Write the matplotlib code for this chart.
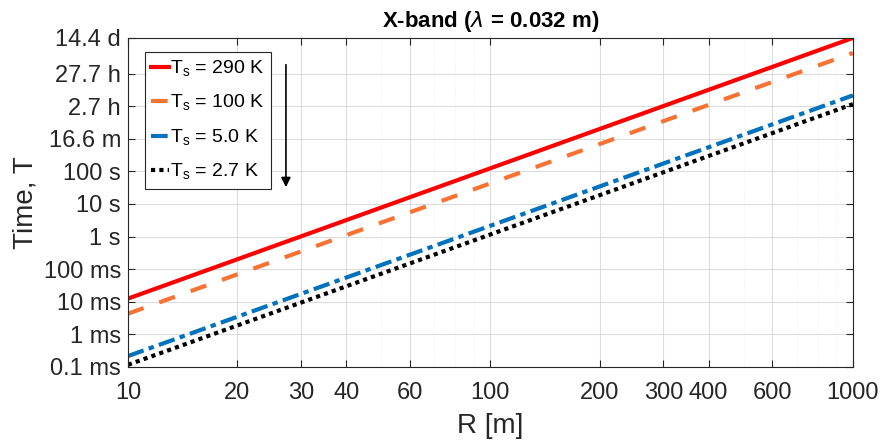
import matplotlib
matplotlib.use("Agg")
import matplotlib.pyplot as plt
from matplotlib.ticker import FixedLocator, NullFormatter

plt.rcParams['font.family'] = ['Liberation Sans', 'DejaVu Sans']
plt.rcParams['mathtext.fontset'] = 'custom'
plt.rcParams['mathtext.rm'] = 'Liberation Sans'

# range end points (log-log straight lines)
R = [10, 1000]
T_290 = [0.01244, 1.244e6]
T_100 = [0.00429, 4.29e5]
T_5 = [2.145e-4, 2.145e4]
T_27 = [1.158e-4, 1.158e4]

labels = ['T$_\\mathregular{s}$ = 290 K', 'T$_\\mathregular{s}$ = 100 K',
          'T$_\\mathregular{s}$ = 5.0 K', 'T$_\\mathregular{s}$ = 2.7 K']

xticks = [10, 20, 30, 40, 60, 100, 200, 300, 400, 600, 1000]
yticks = [1e-4, 1e-3, 1e-2, 1e-1, 1, 10, 100, 1e3, 1e4, 1e5, 1.244e6]
ytick_labels = ['0.1 ms', '1 ms', '10 ms', '100 ms', '1 s', '10 s', '100 s',
                '16.6 m', '2.7 h', '27.7 h', '14.4 d']

fig = plt.figure(figsize=(8.82, 4.41), dpi=100)
ax = fig.add_axes([0.145, 0.168, 0.822, 0.746])

ax.plot(R, T_290, color='#ff0000', lw=3, label=labels[0])
ax.plot(R, T_100, color='#f87233', lw=3, dashes=(4, 4), label=labels[1])
ax.plot(R, T_5, color='#0072bd', lw=3, dashes=(4, 1.3, 1.3, 1.3), label=labels[2])
ax.plot(R, T_27, color='black', lw=3, dashes=(1, 1), label=labels[3])

ax.set_xscale('log')
ax.set_yscale('log')
ax.set_xlim(10, 1000)
ax.set_ylim(1e-4, 1.244e6)

ax.xaxis.set_major_locator(FixedLocator(xticks))
ax.set_xticklabels([str(v) for v in xticks])
ax.xaxis.set_minor_formatter(NullFormatter())
ax.yaxis.set_major_locator(FixedLocator(yticks))
ax.set_yticklabels(ytick_labels)
ax.yaxis.set_minor_formatter(NullFormatter())

ax.tick_params(which='major', direction='in', length=5, width=0.8,
               top=True, right=True, labelsize=17, colors='#262626', pad=5)
ax.tick_params(axis='x', which='major', pad=11)
ax.tick_params(which='minor', direction='in', length=0, top=True, right=True)
for s in ax.spines.values():
    s.set_color('#262626')
    s.set_linewidth(0.8)

ax.grid(True, which='major', color='#dcdcdc', lw=0.8)
ax.grid(True, which='minor', color='#ececec', lw=0.6, ls=':')
ax.set_axisbelow(True)

ax.set_xlabel('R [m]', fontsize=20, color='#262626', labelpad=6)
ax.set_ylabel('Time, T', fontsize=20, color='#262626', labelpad=4)
ax.set_title('X-band ($\\lambda$ = 0.032 m)', fontsize=16, fontweight='bold', pad=8)

leg = ax.legend(loc='upper left', bbox_to_anchor=(0.023, 0.957), borderaxespad=0,
                fontsize=14, handlelength=0.9, handletextpad=0.05,
                labelspacing=0.72, borderpad=0.35, fancybox=False, framealpha=1,
                edgecolor='#262626')
leg.get_frame().set_linewidth(0.8)

ax.annotate('', xy=(0.218, 0.538), xytext=(0.218, 0.927), xycoords='axes fraction',
            arrowprops=dict(arrowstyle='-|>', color='black', lw=1.2,
                            mutation_scale=14))

fig.savefig('out.png', dpi=100)
